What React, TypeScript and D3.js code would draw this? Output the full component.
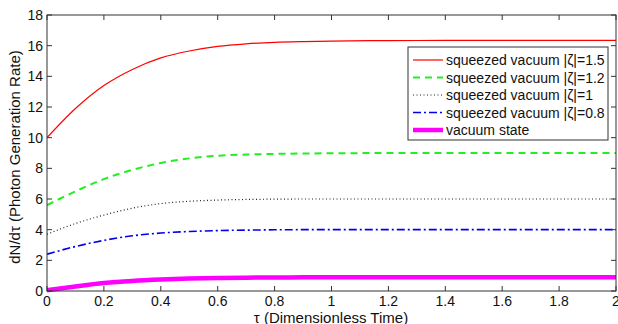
import React from "react";
import * as d3 from "d3";

const tau = [0, 0.1, 0.2, 0.3, 0.4, 0.5, 0.6, 0.7, 0.8, 0.9, 1.0, 1.2, 1.4, 1.6, 1.8, 2.0];
const sq15 = [10, 11.9, 13.4, 14.45, 15.2, 15.65, 15.95, 16.12, 16.22, 16.27, 16.3, 16.33, 16.34, 16.35, 16.35, 16.35];
const sq12 = [5.6, 6.5, 7.3, 7.9, 8.35, 8.65, 8.82, 8.9, 8.94, 8.97, 8.98, 9.0, 9.0, 9.0, 9.0, 9.0];
const sq10 = [3.7, 4.4, 4.95, 5.4, 5.7, 5.85, 5.93, 5.97, 5.99, 6.0, 6.0, 6.0, 6.0, 6.0, 6.0, 6.0];
const sq08 = [2.4, 2.9, 3.3, 3.6, 3.78, 3.88, 3.94, 3.97, 3.99, 4.0, 4.0, 4.0, 4.0, 4.0, 4.0, 4.0];
const vac = [0.05, 0.3, 0.52, 0.66, 0.75, 0.81, 0.85, 0.87, 0.88, 0.89, 0.9, 0.9, 0.9, 0.9, 0.9, 0.9];

const seriesLabels = [
  "squeezed vacuum |ζ|=1.5",
  "squeezed vacuum |ζ|=1.2",
  "squeezed vacuum |ζ|=1",
  "squeezed vacuum |ζ|=0.8",
  "vacuum state",
];
const xTicks = [0, 0.2, 0.4, 0.6, 0.8, 1, 1.2, 1.4, 1.6, 1.8, 2];
const yTicks = [0, 2, 4, 6, 8, 10, 12, 14, 16, 18];
const xLabel = "τ (Dimensionless Time)";
const yLabel = "dN/dτ (Photon Generation Rate)";

const styles = [
  { color: "#ff0000", width: 1.2, dash: "" },
  { color: "#22ee22", width: 2, dash: "7,5" },
  { color: "#222222", width: 1.2, dash: "1,2.5" },
  { color: "#0000ee", width: 1.6, dash: "8,3,2,3" },
  { color: "#ff00ff", width: 4.5, dash: "" },
];

export default function App() {
  const W = 618, H = 324;
  const m = { left: 47, right: 616, top: 15, bottom: 291 };
  const x = d3.scaleLinear().domain([0, 2]).range([m.left, m.right]);
  const y = d3.scaleLinear().domain([0, 18]).range([m.bottom, m.top]);
  const series = [sq15, sq12, sq10, sq08, vac];
  const line = d3
    .line<number>()
    .x((_, i) => x(tau[i]))
    .y((d) => y(d))
    .curve(d3.curveMonotoneX);
  const font = "'Liberation Sans', Arial, sans-serif";
  const axisColor = "#333";
  const tl = 5;
  const lg = { x: 408, y: 47, w: 200, h: 93, row0: 60, step: 17.5 };

  return (
    <svg width={W} height={H} style={{ position: "absolute", left: 0, top: 0, background: "#fff" }} fontFamily={font}>
      <rect x={0} y={0} width={W} height={H} fill="#fff" />
      <defs>
        <clipPath id="plotclip">
          <rect x={m.left} y={m.top} width={m.right - m.left} height={m.bottom - m.top + 3} />
        </clipPath>
      </defs>
      <g clipPath="url(#plotclip)">
        {series.map((s, k) => (
          <path
            key={k}
            d={line(s) || ""}
            fill="none"
            stroke={styles[k].color}
            strokeWidth={styles[k].width}
            strokeDasharray={styles[k].dash}
          />
        ))}
      </g>
      <rect x={m.left} y={m.top} width={m.right - m.left} height={m.bottom - m.top} fill="none" stroke={axisColor} strokeWidth={1} />
      {xTicks.map((t) => (
        <g key={"x" + t}>
          <line x1={x(t)} x2={x(t)} y1={m.bottom} y2={m.bottom - tl} stroke={axisColor} />
          <line x1={x(t)} x2={x(t)} y1={m.top} y2={m.top + tl} stroke={axisColor} />
          <text x={x(t)} y={306} fontSize={14} textAnchor="middle" fill="#111">
            {String(t)}
          </text>
        </g>
      ))}
      {yTicks.map((t) => (
        <g key={"y" + t}>
          <line x1={m.left} x2={m.left + tl} y1={y(t)} y2={y(t)} stroke={axisColor} />
          <line x1={m.right} x2={m.right - tl} y1={y(t)} y2={y(t)} stroke={axisColor} />
          <text x={43} y={y(t) + 5} fontSize={14} textAnchor="end" fill="#111">
            {String(t)}
          </text>
        </g>
      ))}
      <text x={331} y={323} fontSize={15} textAnchor="middle" fill="#111">
        {xLabel}
      </text>
      <text transform={`translate(20,157) rotate(-90)`} fontSize={15} textAnchor="middle" fill="#111">
        {yLabel}
      </text>
      <rect x={lg.x} y={lg.y} width={lg.w} height={lg.h} fill="#fff" stroke={axisColor} strokeWidth={1} />
      {seriesLabels.map((lab, k) => {
        const yy = lg.row0 + k * lg.step;
        return (
          <g key={lab}>
            <line
              x1={413}
              x2={443}
              y1={yy}
              y2={yy}
              stroke={styles[k].color}
              strokeWidth={styles[k].width}
              strokeDasharray={styles[k].dash}
            />
            <text x={446} y={yy + 5} fontSize={14} fill="#111">
              {lab}
            </text>
          </g>
        );
      })}
    </svg>
  );
}
